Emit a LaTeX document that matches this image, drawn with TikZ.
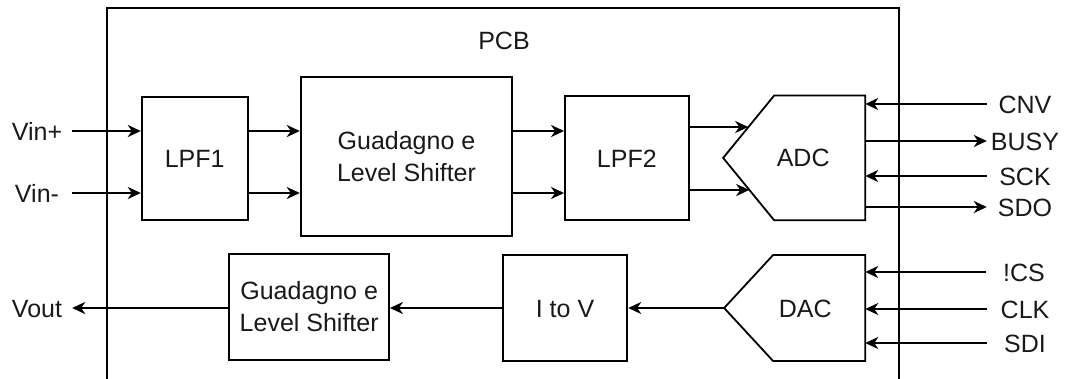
\documentclass[tikz,border=0pt]{standalone}
\usepackage{fontspec}
\setmainfont{Liberation Sans}
\usetikzlibrary{arrows.meta,calc}
\begin{document}
\begin{tikzpicture}[x=1pt,y=-1pt,
  every node/.style={font=\fontsize{25}{31.5}\selectfont, inner sep=0pt, text=black!90},
  blk/.style={draw, line width=1.8pt, align=center},
  one/.style={text height=18pt, text depth=0pt},
  sig/.style={one, minimum width=76pt},
  lsig/.style={one, minimum width=70pt},
  edge/.style={line width=1.8pt, line join=miter},
  arr/.style={line width=2pt, -{Stealth[length=13pt,width=12pt,inset=4pt]}}]
\clip (0,0) rectangle (1067,378);
% PCB board
\node[draw=none, minimum width=792pt, minimum height=392pt] (pcb) at (503,204) {};
\draw[edge] (pcb.south west) rectangle (pcb.north east);
\node[one] (pcbl) at (504,40) {PCB};
% blocks
\node[blk, one, minimum width=106pt, minimum height=123.3pt] (lpf1) at (194.7,158.3) {LPF1};
\node[blk, minimum width=211.6pt, minimum height=159pt] (g1) at (406.5,156.5) {Guadagno e\\Level Shifter};
\node[blk, one, minimum width=123.7pt, minimum height=124pt] (lpf2) at (626.8,158) {LPF2};
\node[blk, minimum width=159.7pt, minimum height=105.7pt] (g2) at (309.2,306.8) {Guadagno e\\Level Shifter};
\node[blk, one, minimum width=124.6pt, minimum height=105.7pt] (itov) at (565,308) {I to V};
% converters
\node[one, minimum width=141.7pt, minimum height=124.3pt] (adc) at (794.2,157.9) {\hspace*{18pt}ADC};
\draw[edge] ($(adc.north west)+(51,0)$) -- (adc.north east) -- (adc.south east) -- ($(adc.south west)+(51,0)$) -- (adc.west) -- cycle;
\node[one, minimum width=140.7pt, minimum height=105.7pt] (dac) at (794.7,308) {\hspace*{21pt}DAC};
\draw[edge] ($(dac.north west)+(49,0)$) -- (dac.north east) -- (dac.south east) -- ($(dac.south west)+(49,0)$) -- (dac.west) -- cycle;
\coordinate (adcin1) at (748.2,127);
\coordinate (adcin2) at (749.2,190);
% left signals
\node[lsig] (vinp) at (37,131) {Vin+};
\node[lsig] (vinm) at (37,193) {Vin-};
\node[lsig] (vout) at (37,308) {Vout};
% right signals
\node[sig] (cnv) at (1025,104) {CNV};
\node[sig] (busy) at (1025,141) {BUSY};
\node[sig] (sck) at (1025,176) {SCK};
\node[sig] (sdo) at (1025,207) {SDO};
\node[sig] (ncs) at (1024,272) {!CS};
\node[sig] (clk) at (1025,309) {CLK};
\node[sig] (sdi) at (1025,343) {SDI};
% connectors
\draw[arr] (vinp.east) -- (vinp.east -| lpf1.west);
\draw[arr] (vinm.east) -- (vinm.east -| lpf1.west);
\draw[arr] (vinp.east -| lpf1.east) -- (vinp.east -| g1.west);
\draw[arr] (vinm.east -| lpf1.east) -- (vinm.east -| g1.west);
\draw[arr] (vinp.east -| g1.east) -- (vinp.east -| lpf2.west);
\draw[arr] (vinm.east -| g1.east) -- (vinm.east -| lpf2.west);
\draw[arr] (adcin1 -| lpf2.east) -- (adcin1);
\draw[arr] (adcin2 -| lpf2.east) -- (adcin2);
\draw[arr] (cnv.west) -- (cnv.west -| adc.east);
\draw[arr] (busy.west -| adc.east) -- (busy.west);
\draw[arr] (sck.west) -- (sck.west -| adc.east);
\draw[arr] (sdo.west -| adc.east) -- (sdo.west);
\draw[arr] (ncs.west) -- (ncs.west -| dac.east);
\draw[arr] (clk.west) -- (clk.west -| dac.east);
\draw[arr] (sdi.west) -- (sdi.west -| dac.east);
\draw[arr] (dac.west) -- (dac.west -| itov.east);
\draw[arr] (itov.west) -- (itov.west -| g2.east);
\draw[arr] (g2.west |- itov.west) -- (vout.east |- itov.west);
\end{tikzpicture}
\end{document}
